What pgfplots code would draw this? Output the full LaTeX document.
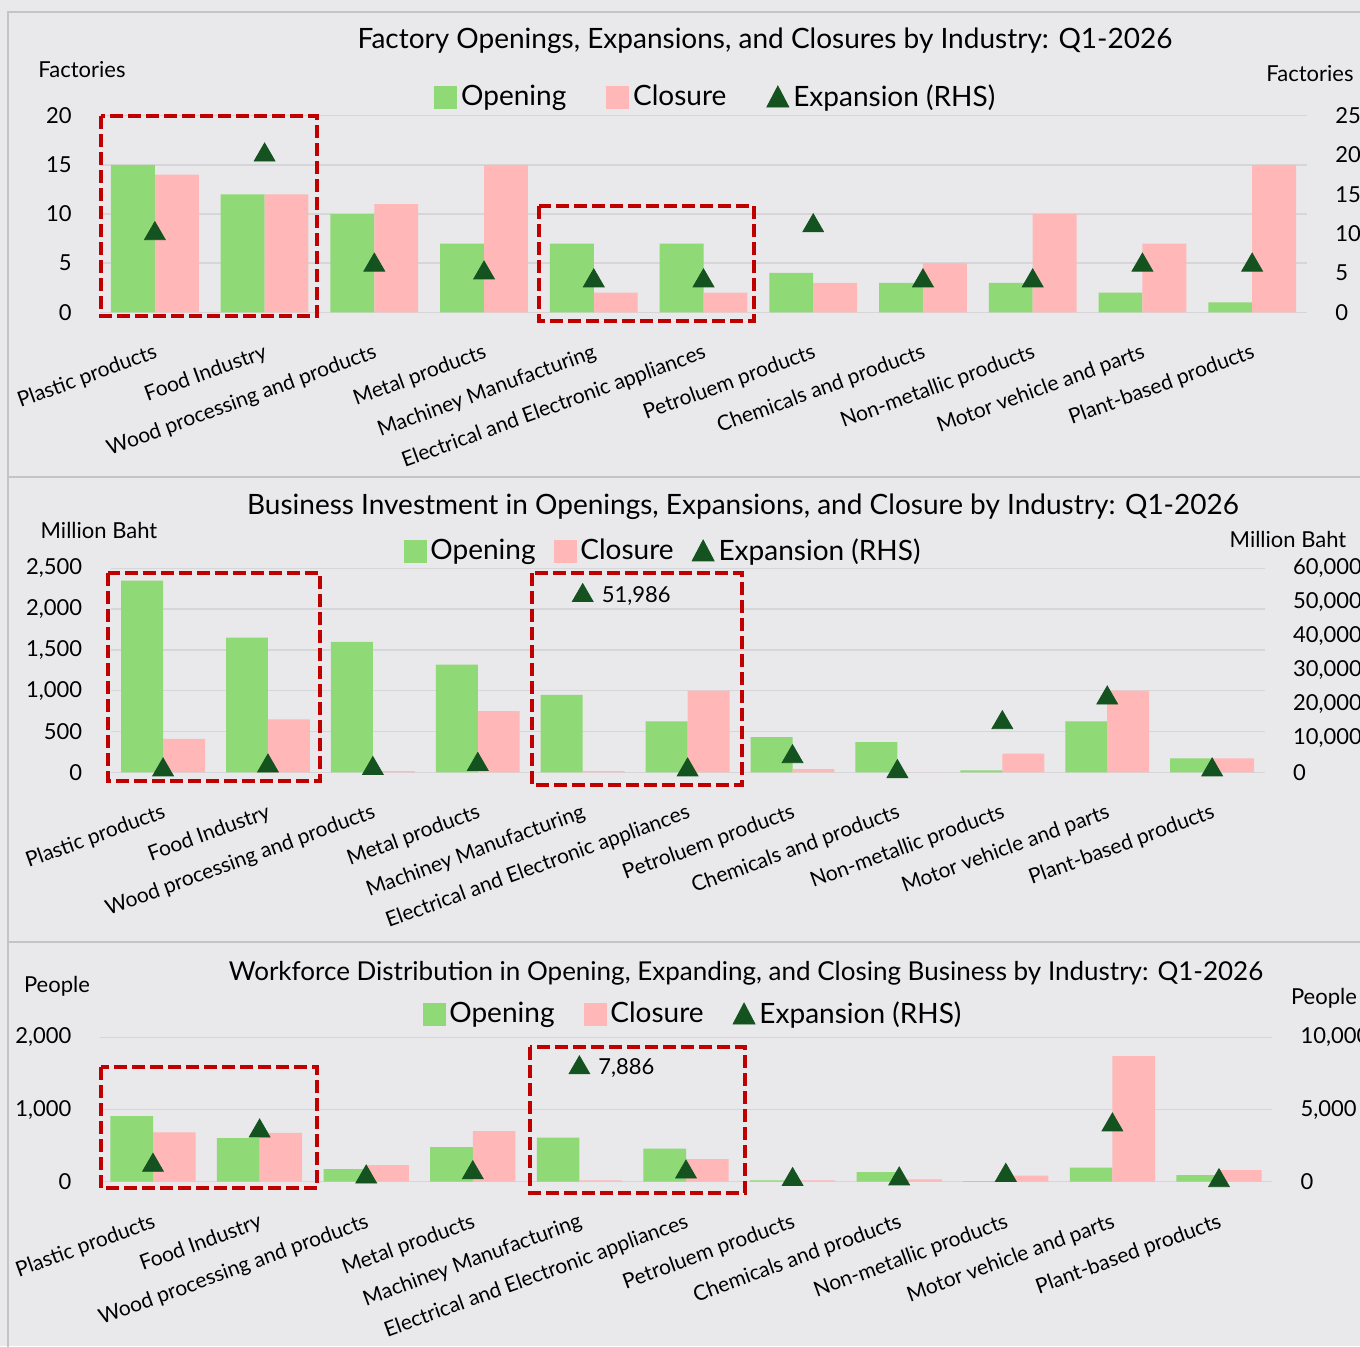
\documentclass[border=0pt]{standalone}
\usepackage{fontspec}
\setmainfont{Lato}
\usepackage{pgfplots}
\pgfplotsset{compat=1.18}

\definecolor{bgc}{RGB}{233,233,235}
\definecolor{framec}{RGB}{196,196,198}
\definecolor{gridc}{RGB}{214,214,216}
\definecolor{opc}{RGB}{143,217,118}
\definecolor{clc}{RGB}{255,183,183}
\definecolor{expc}{RGB}{20,82,32}
\definecolor{boxc}{RGB}{192,0,0}

\tikzset{redbox/.style={boxc, line width=1.6pt, dash pattern=on 6.5pt off 2.5pt}}

\pgfplotsset{
  base/.style={
    scale only axis, anchor=south west, xmin=-0.5, xmax=10.5, clip=false,
    axis line style={draw=none}, major tick length=0pt, tick style={draw=none},
    scaled y ticks=false,
    /pgf/number format/assume math mode=true,
    /pgf/number format/1000 sep={,},
    yticklabel style={font=\fontsize{11}{13}\selectfont, inner sep=0pt},
  },
  lefty/.style={
    base, axis y line*=left, axis x line*=bottom,
    ymajorgrids, grid style={gridc, line width=0.75pt},
    ybar, bar width=0.4,
    xtick={0,...,10},
    xticklabels={Plastic products, Food Industry, Wood processing and products,
      Metal products, Machiney Manufacturing, Electrical and Electronic appliances,
      Petroluem products, Chemicals and products, Non-metallic products,
      Motor vehicle and parts, Plant-based products},
    xticklabel style={rotate=20, anchor=north east, inner sep=0pt, yshift=-14pt,
      xshift=-6pt, font=\fontsize{10.5}{12}\selectfont},
    yticklabel style={anchor=east, xshift=-14pt},
  },
  righty/.style={
    base, axis y line*=right, axis x line=none,
    yticklabel style={anchor=west, xshift=14pt},
    legend style={draw=none, fill=none, legend columns=3, anchor=center,
      font=\fontsize{14}{16}\selectfont, inner sep=0pt},
    legend cell align=left,
  },
  legsep/.style={legend style={/tikz/every even column/.style={column sep=#1}}},
  openbar/.style={fill=opc, draw=none, bar shift=-0.2},
  closebar/.style={fill=clc, draw=none, bar shift=0.2},
  expmark/.style={only marks, mark=triangle*, mark size=6pt,
    mark options={fill=expc, draw=expc},
    legend image code/.code={\fill[expc] (0pt,-5pt) -- (11pt,-5pt) -- (5.5pt,5.5pt) -- cycle;}},
  oplegend/.style={legend image code/.code={\fill[opc] (0pt,-5.5pt) rectangle (11pt,5.5pt);}},
  cllegend/.style={legend image code/.code={\fill[clc] (0pt,-5.5pt) rectangle (11pt,5.5pt);}},
}

\begin{document}
\begin{tikzpicture}
\useasboundingbox (0,0) rectangle (680pt,-673pt);
\clip (0,0) rectangle (680pt,-673pt);
\fill[bgc] (0,0) rectangle (680pt,-673pt);
\draw[framec, line width=1pt] (4pt,-680pt) -- (4pt,-6pt) -- (690pt,-6pt);
\draw[framec, line width=1pt] (4pt,-238.5pt) -- (690pt,-238.5pt);
\draw[framec, line width=1pt] (4pt,-471pt) -- (690pt,-471pt);

% ---------------- Factories ----------------
\begin{axis}[lefty, at={(50pt,-156.15pt)}, width=603.5pt, height=98.3pt,
  ymin=0, ymax=20, ytick={0,5,...,20}]
\addplot[openbar] coordinates {(0,15) (1,12) (2,10) (3,7) (4,7) (5,7) (6,4) (7,3) (8,3) (9,2) (10,1)};
\addplot[closebar] coordinates {(0,14) (1,12) (2,11) (3,15) (4,2) (5,2) (6,3) (7,5) (8,10) (9,7) (10,15)};
\end{axis}
\draw[redbox] (50.5pt,-58pt) rectangle (158.5pt,-158pt);
\draw[redbox] (269.5pt,-103pt) rectangle (377pt,-160.5pt);
\begin{axis}[righty, legsep=18pt, at={(50pt,-156.15pt)}, width=603.5pt, height=98.3pt,
  ymin=0, ymax=25, ytick={0,5,...,25},
  legend style={at={(0.511,1.095)}}]
\addlegendimage{oplegend}\addlegendentry{Opening}
\addlegendimage{cllegend}\addlegendentry{Closure}
\addplot[expmark] coordinates {(0,10) (1,20) (2,6) (3,5) (4,4) (5,4) (6,11) (7,4) (8,4) (9,6) (10,6)};
\addlegendentry{Expansion (RHS)}
\end{axis}
\node[font=\fontsize{14}{16}\selectfont] at (382.5pt,-20.5pt) {Factory Openings, Expansions, and Closures by Industry: Q1-2026};
\node[font=\fontsize{11}{13}\selectfont] at (41pt,-35pt) {Factories};
\node[font=\fontsize{11}{13}\selectfont] at (655pt,-37pt) {Factories};

% ---------------- Investment ----------------
\begin{axis}[lefty, at={(55.3pt,-386.15pt)}, width=577pt, height=102pt,
  ymin=0, ymax=2500, ytick={0,500,...,2500}]
\addplot[openbar] coordinates {(0,2350) (1,1650) (2,1600) (3,1320) (4,950) (5,625) (6,430) (7,370) (8,25) (9,625) (10,170)};
\addplot[closebar] coordinates {(0,410) (1,650) (2,15) (3,750) (4,15) (5,1000) (6,40) (7,0) (8,230) (9,1000) (10,170)};
\end{axis}
\draw[redbox] (54pt,-286.5pt) rectangle (160pt,-390.5pt);
\draw[redbox] (266pt,-286.5pt) rectangle (371pt,-392.5pt);
\begin{axis}[righty, legsep=7pt, at={(55.3pt,-386.15pt)}, width=577pt, height=102pt,
  ymin=0, ymax=60000, ytick={0,10000,...,60000},
  legend style={at={(0.4796,1.085)}}]
\addlegendimage{oplegend}\addlegendentry{Opening}
\addlegendimage{cllegend}\addlegendentry{Closure}
\addplot[expmark] coordinates {(0,700) (1,1850) (2,1100) (3,2300) (4,51986) (5,700) (6,4600) (7,200) (8,14600) (9,21850) (10,700)};
\addlegendentry{Expansion (RHS)}
\addplot[draw=none, forget plot, nodes near coords, point meta=explicit symbolic,
  nodes near coords style={anchor=west, xshift=6pt, font=\fontsize{11}{13}\selectfont}]
  coordinates {(4,51986) [51{,}986]};
\end{axis}
\node[font=\fontsize{14}{16}\selectfont] at (371.5pt,-253.5pt) {Business Investment in Openings, Expansions, and Closure by Industry: Q1-2026};
\node[font=\fontsize{11}{13}\selectfont] at (49.5pt,-265pt) {Million Baht};
\node[font=\fontsize{11}{13}\selectfont] at (644pt,-269.5pt) {Million Baht};

% ---------------- Workforce ----------------
\begin{axis}[lefty, at={(49.85pt,-590.85pt)}, width=586.3pt, height=72.2pt,
  ymin=0, ymax=2000, ytick={0,1000,2000}]
\addplot[openbar] coordinates {(0,910) (1,605) (2,176) (3,480) (4,610) (5,457) (6,20) (7,134) (8,10) (9,194) (10,93)};
\addplot[closebar] coordinates {(0,684) (1,675) (2,231) (3,702) (4,20) (5,314) (6,20) (7,33) (8,83) (9,1741) (10,162)};
\end{axis}
\draw[redbox] (50.5pt,-533.5pt) rectangle (158.5pt,-594pt);
\draw[redbox] (265pt,-523.5pt) rectangle (372.5pt,-596.5pt);
\begin{axis}[righty, legsep=12.5pt, at={(49.85pt,-590.85pt)}, width=586.3pt, height=72.2pt,
  ymin=0, ymax=10000, ytick={0,5000,10000},
  legend style={at={(0.5068,1.161)}}]
\addlegendimage{oplegend}\addlegendentry{Opening}
\addlegendimage{cllegend}\addlegendentry{Closure}
\addplot[expmark] coordinates {(0,1136) (1,3510) (2,325) (3,620) (4,7886) (5,670) (6,150) (7,190) (8,440) (9,3930) (10,70)};
\addlegendentry{Expansion (RHS)}
\addplot[draw=none, forget plot, nodes near coords, point meta=explicit symbolic,
  nodes near coords style={anchor=west, xshift=6pt, font=\fontsize{11}{13}\selectfont}]
  coordinates {(4,7886) [7{,}886]};
\end{axis}
\node[font=\fontsize{13}{15}\selectfont] at (373pt,-486.5pt) {Workforce Distribution in Opening, Expanding, and Closing Business by Industry: Q1-2026};
\node[font=\fontsize{11}{13}\selectfont] at (28.5pt,-493pt) {People};
\node[font=\fontsize{11}{13}\selectfont] at (662pt,-499pt) {People};
\end{tikzpicture}
\end{document}
